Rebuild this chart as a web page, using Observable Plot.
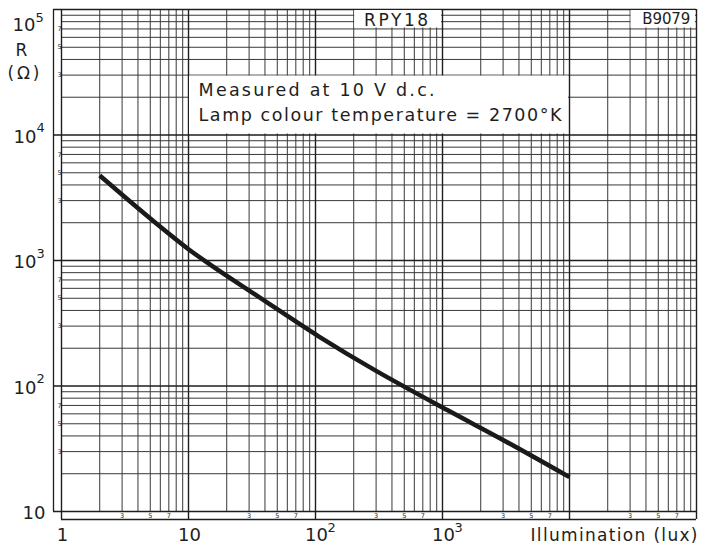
<!DOCTYPE html>
<html><head><meta charset="utf-8">
<script src="https://cdn.jsdelivr.net/npm/d3@7"></script>
<script src="https://cdn.jsdelivr.net/npm/@observablehq/plot@0.6"></script>
<style>
html,body{margin:0;padding:0;background:#fff;}
#chart svg{display:block;}
</style>
</head><body><div id="chart"></div>
<script>
// ---- data ----
const illumination = [2, 5, 10, 15, 35, 105, 300, 1100, 3100, 10000];          // lux
const resistance   = [4750, 2160, 1230, 920, 520, 250, 132, 64, 36.5, 18.8];     // ohm

const xDecades = [1, 10, 100, 1000, 10000, 100000];
const yDecades = [10, 100, 1000, 10000, 100000];
const minorMultipliers = [2, 3, 4, 5, 6, 7, 8, 9];
const minorLabelMultipliers = [3, 5, 7];

const xTickBase = ["1", "10", "10", "10"];
const xTickExp  = ["", "", "2", "3"];
const xTickVals = [1, 10, 100, 1000];

const yTickVals = [100, 1000, 10000];
const yTickExp  = ["2", "3", "4"];

const xLabel = "Illumination (lux)";
const yLabel1 = "R";
const yLabel2 = "(Ω)";
const deviceName = "RPY18";
const drawingCode = "B9079";
const note1 = "Measured at 10 V d.c.";
const note2 = "Lamp colour temperature = 2700°K";

// ---- derived tables ----
const curve = illumination.map((x, i) => ({x, r: resistance[i]}));
const xMinor = [], yMinor = [], xMinorLab = [], yMinorLab = [];
for (const d of xDecades.slice(0, -1)) {
  for (const m of minorMultipliers) xMinor.push(m * d);
  for (const m of minorLabelMultipliers) xMinorLab.push({v: m * d, t: String(m)});
}
for (const d of yDecades.slice(0, -1)) {
  for (const m of minorMultipliers) yMinor.push(m * d);
  for (const m of minorLabelMultipliers) yMinorLab.push({v: m * d, t: String(m)});
}
const xTicks = xTickVals.map((v, i) => ({v, base: xTickBase[i], exp: xTickExp[i]}));
const yTicks = yTickVals.map((v, i) => ({v, exp: yTickExp[i]}));

// annotation boxes (bounded by grid lines)
const boxes = [
  {x1: 200, x2: 1000, y1: 70000, y2: 100000},
  {x1: 30000, x2: 100000, y1: 70000, y2: 100000},
  {x1: 10, x2: 10000, y1: 10000, y2: 30000}
];

const ink = "#1e1e1e";
const gridInk = "#383838";

const plot = Plot.plot({
  width: 703, height: 544,
  marginLeft: 61, marginRight: 7, marginTop: 9, marginBottom: 33,
  style: {fontFamily: "DejaVu Sans", background: "#fff", color: ink},
  x: {type: "log", domain: [1, 100000], axis: null},
  y: {type: "log", domain: [10, 100000], axis: null},
  marks: [
    // grid
    Plot.ruleX(xMinor, {stroke: gridInk, strokeWidth: 1}),
    Plot.ruleY(yMinor, {stroke: gridInk, strokeWidth: 1}),
    Plot.ruleX(xDecades, {stroke: ink, strokeWidth: 1.4, insetBottom: -8}),
    Plot.ruleY(yDecades, {stroke: ink, strokeWidth: 1.4, insetLeft: -8}),
    Plot.ruleX([1], {dx: -8, stroke: ink, strokeWidth: 1.3}),
    Plot.ruleY([10], {dy: 8, stroke: ink, strokeWidth: 1.3}),
    // white annotation boxes
    Plot.rect(boxes, {x1: "x1", x2: "x2", y1: "y1", y2: "y2", fill: "#fff", inset: 1}),
    // small minor labels in the strips
    Plot.text(xMinorLab, {x: "v", text: "t", frameAnchor: "bottom", dy: 4.5, lineAnchor: "middle", fontSize: 6.5, fill: ink}),
    Plot.text(yMinorLab, {y: "v", text: "t", frameAnchor: "left", dx: -4, lineAnchor: "middle", fontSize: 6.5, fill: ink}),
    // curve
    Plot.line(curve, {x: "x", y: "r", stroke: "#1a1a1a", strokeWidth: 4.5, curve: "catmull-rom", strokeLinecap: "butt"}),
    // y tick labels
    Plot.text(yTicks, {y: "v", text: () => "10", frameAnchor: "left", textAnchor: "end", dx: -25, dy: 2, lineAnchor: "middle", fontSize: 18, fill: ink}),
    Plot.text(yTicks, {y: "v", text: "exp", frameAnchor: "left", textAnchor: "start", dx: -25, dy: -7, lineAnchor: "middle", fontSize: 13, fill: ink}),
    Plot.text([100000], {y: d => d, text: () => "10", frameAnchor: "left", textAnchor: "end", dx: -26, dy: 16, lineAnchor: "middle", fontSize: 18, fill: ink}),
    Plot.text([100000], {y: d => d, text: () => "5", frameAnchor: "left", textAnchor: "start", dx: -26, dy: 8, lineAnchor: "middle", fontSize: 13, fill: ink}),
    Plot.text([10], {y: d => d, text: () => "10", frameAnchor: "left", textAnchor: "end", dx: -16, dy: 2, lineAnchor: "middle", fontSize: 18, fill: ink}),
    Plot.text([yLabel1], {text: d => d, frameAnchor: "top-left", dx: -40, dy: 41, lineAnchor: "middle", textAnchor: "middle", fontSize: 17, fill: ink}),
    Plot.text([yLabel2], {text: d => d, frameAnchor: "top-left", dx: -38, dy: 64, lineAnchor: "middle", textAnchor: "middle", fontSize: 17, fill: ink}),
    // x tick labels
    Plot.text(xTicks, {x: "v", text: "base", frameAnchor: "bottom", dx: 1, dy: 29, lineAnchor: "bottom", textAnchor: "middle", fontSize: 18, fill: ink}),
    Plot.text(xTicks, {x: "v", text: "exp", frameAnchor: "bottom", dx: 12, dy: 20, lineAnchor: "bottom", textAnchor: "start", fontSize: 13, fill: ink}),
    Plot.text([xLabel], {text: d => d, frameAnchor: "bottom-right", dx: 1, dy: 29, lineAnchor: "bottom", textAnchor: "end", fontSize: 17, fill: ink}),
    // annotations
    Plot.text([deviceName], {text: d => d, x: () => Math.sqrt(boxes[0].x1 * boxes[0].x2), y: () => Math.sqrt(boxes[0].y1 * boxes[0].y2), dx: -2, dy: 1, lineAnchor: "middle", textAnchor: "middle", fontSize: 17, fill: ink}),
    Plot.text([drawingCode], {text: d => d, x: () => Math.sqrt(boxes[1].x1 * boxes[1].x2), y: () => Math.sqrt(boxes[1].y1 * boxes[1].y2), dx: 3, dy: 0, lineAnchor: "middle", textAnchor: "middle", fontSize: 15, fill: ink}),
    Plot.text([note1], {text: d => d, x: () => 12, y: () => 20000, dy: -1, lineAnchor: "bottom", textAnchor: "start", fontSize: 17.5, fill: ink}),
    Plot.text([note2], {text: d => d, x: () => 12, y: () => 20000, dy: 24, lineAnchor: "bottom", textAnchor: "start", fontSize: 17.5, fill: ink})
  ]
});

// stretch the lettering to the drafted widths of the reference
const lengths = {};
lengths[xLabel] = 167;
lengths[deviceName] = 64;
lengths[drawingCode] = 48;
lengths[note1] = 236;
lengths[note2] = 363;
lengths[yLabel2] = 32;
d3.select(plot).selectAll("text").each(function () {
  const t = this.textContent;
  if (lengths[t]) {
    this.setAttribute("textLength", lengths[t]);
    this.setAttribute("lengthAdjust", "spacing");
  }
});
document.getElementById("chart").appendChild(plot);
</script>
</body></html>
